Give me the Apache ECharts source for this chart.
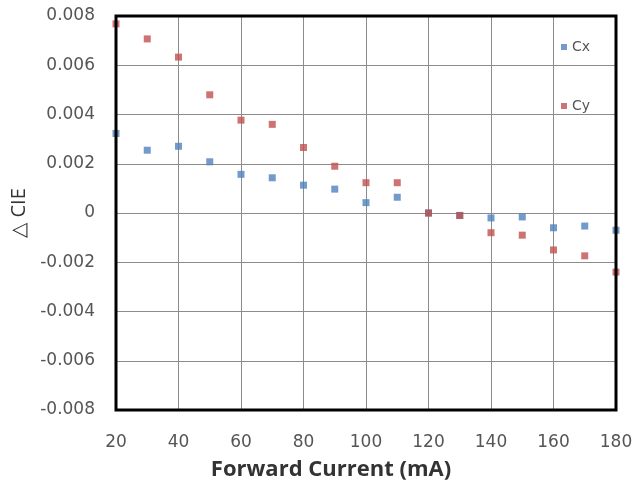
<!DOCTYPE html>
<html><head><meta charset="utf-8">
<script src="https://cdn.jsdelivr.net/npm/echarts@6/dist/echarts.min.js"></script>
<style>html,body{margin:0;padding:0;background:#fff}#c{width:636px;height:488px}</style>
</head><body><div id="c"></div>
<script>
var current = [20,30,40,50,60,70,80,90,100,110,120,130,140,150,160,170,180];
var cx = [0.00323,0.00255,0.00271,0.00208,0.00157,0.00143,0.00113,0.00097,0.00042,0.00064,0.0,-0.0001,-0.0002,-0.00016,-0.0006,-0.00053,-0.0007];
var cy = [0.00768,0.00707,0.00633,0.0048,0.00377,0.0036,0.00266,0.0019,0.00123,0.00123,0.0,-0.0001,-0.0008,-0.0009,-0.0015,-0.00174,-0.0024];
var xTicks = [20,40,60,80,100,120,140,160,180];
var yTicks = [-0.008,-0.006,-0.004,-0.002,0,0.002,0.004,0.006,0.008];

function pairs(xs, ys){ return xs.map(function(x,i){return [x, ys[i]];}); }

var chart = echarts.init(document.getElementById('c'));
chart.setOption({
  animation:false,
  backgroundColor:'#fff',
  grid:{left:116,right:20,top:16,bottom:78,show:true,borderColor:'#000',borderWidth:3,
        backgroundColor:'transparent',z:3,containLabel:false,outerBoundsMode:'none'},
  legend:{
    orient:'vertical',left:556,top:35,itemGap:45,itemWidth:6,itemHeight:6,icon:'rect',
    textStyle:{fontFamily:'DejaVu Sans',fontSize:14,color:'#555'},
    data:['Cx','Cy']
  },
  xAxis:{
    type:'value',min:20,max:180,interval:20,
    axisLine:{show:false},axisTick:{show:false},
    splitLine:{show:true,lineStyle:{color:'#8c8c8c',width:1}},
    axisLabel:{margin:24,fontFamily:'DejaVu Sans',fontSize:17,color:'#555'},
    name:'Forward Current (mA)',nameLocation:'middle',nameGap:49,
    nameTextStyle:{fontFamily:'Open Sans',fontWeight:'bold',fontSize:22,color:'#333',padding:[0,70,0,0]}
  },
  yAxis:{
    type:'value',min:-0.008,max:0.008,interval:0.002,
    axisLine:{show:false},axisTick:{show:false},
    splitLine:{show:true,lineStyle:{color:'#8c8c8c',width:1}},
    axisLabel:{margin:21,fontFamily:'DejaVu Sans',fontSize:17,color:'#555',
      formatter:function(v){ return Math.abs(v)<1e-12 ? '0' : v.toFixed(3); }},
    name:'\u25B3 CIE',nameLocation:'middle',nameGap:86,nameRotate:90,
    nameTextStyle:{fontFamily:'Open Sans',fontSize:20,color:'#333'}
  },
  series:[
    {name:'Cx',type:'scatter',symbol:'rect',symbolSize:7,clip:false,
     itemStyle:{color:'#4f81bd'},data:pairs(current,cx)},
    {name:'Cy',type:'scatter',symbol:'rect',symbolSize:7,clip:false,
     itemStyle:{color:'#c0504d'},data:pairs(current,cy)}
  ]
});
</script></body></html>
